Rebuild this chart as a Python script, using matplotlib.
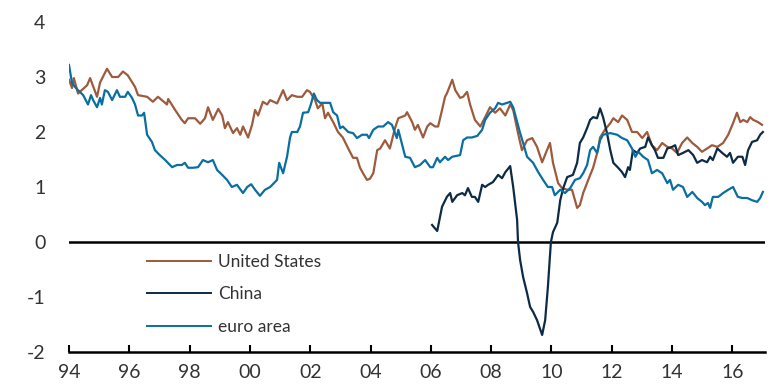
import numpy as np
import matplotlib
matplotlib.use('Agg')
import matplotlib.pyplot as plt

plt.rcParams['font.family'] = ['Lato', 'DejaVu Sans']
plt.rcParams['axes.unicode_minus'] = False

# years after Jan 1994
us_t = [0.00, 0.10, 0.16, 0.30, 0.60, 0.70, 0.93, 1.03, 1.26, 1.43, 1.63, 1.79, 1.95, 2.19, 2.29,
        2.59, 2.78, 2.95, 3.25, 3.29, 3.52, 3.74, 3.84, 3.95, 4.18, 4.35, 4.51, 4.61, 4.77, 4.95,
        5.08, 5.17, 5.27, 5.44, 5.57, 5.68, 5.77, 5.94, 6.07, 6.17, 6.27, 6.43, 6.57, 6.67, 6.90,
        7.00, 7.10, 7.23, 7.39, 7.57, 7.73, 7.89, 7.99, 8.16, 8.25, 8.40, 8.49, 8.59, 8.76, 8.92,
        9.08, 9.26, 9.42, 9.55, 9.65, 9.75, 9.88, 9.98, 10.09, 10.22, 10.32, 10.48, 10.64, 10.81,
        10.92, 11.15, 11.21, 11.38, 11.47, 11.57, 11.74, 11.88, 11.98, 12.14, 12.24, 12.37, 12.47,
        12.53, 12.71, 12.81, 12.97, 13.07, 13.20, 13.30, 13.46, 13.64, 13.80, 13.96, 14.13, 14.29,
        14.47, 14.63, 14.73, 14.89, 15.02, 15.19, 15.36, 15.52, 15.69, 15.85, 15.95, 16.05, 16.22,
        16.35, 16.52, 16.68, 16.85, 16.94, 17.05, 17.22, 17.38, 17.54, 17.61, 17.77, 17.95, 18.05,
        18.21, 18.34, 18.51, 18.67, 18.84, 19.01, 19.17, 19.33, 19.50, 19.67, 19.84, 20.00, 20.16,
        20.33, 20.50, 20.67, 20.83, 20.99, 21.16, 21.32, 21.50, 21.69, 21.86, 22.02, 22.15, 22.26,
        22.36, 22.49, 22.59, 22.69, 22.85, 22.98]
us_v = [2.95, 2.80, 2.98, 2.70, 2.85, 2.98, 2.64, 2.90, 3.15, 3.00, 3.00, 3.10, 3.03, 2.82, 2.67,
        2.64, 2.55, 2.64, 2.50, 2.60, 2.40, 2.22, 2.16, 2.25, 2.25, 2.15, 2.25, 2.45, 2.22, 2.42,
        2.30, 2.07, 2.18, 1.98, 2.07, 1.95, 2.10, 1.90, 2.13, 2.40, 2.30, 2.55, 2.50, 2.58, 2.52,
        2.64, 2.76, 2.58, 2.67, 2.64, 2.64, 2.76, 2.73, 2.58, 2.43, 2.52, 2.25, 2.35, 2.18, 2.00,
        1.90, 1.70, 1.53, 1.53, 1.35, 1.25, 1.13, 1.15, 1.25, 1.67, 1.70, 1.85, 1.70, 2.07,
        2.25, 2.30, 2.36, 2.18, 2.04, 2.13, 1.90, 2.10, 2.16, 2.10, 2.10, 2.40, 2.64,
        2.70, 2.95, 2.76, 2.62, 2.64, 2.73, 2.50, 2.22, 2.10, 2.27, 2.45, 2.35, 2.43,
        2.30, 2.50, 2.40, 1.98, 1.67, 1.85, 1.89, 1.73, 1.45, 1.67, 1.80, 1.44, 1.07,
        0.98, 0.95, 0.95, 0.62, 0.67, 0.89, 1.13, 1.35, 1.67, 1.90, 2.04, 2.16, 2.25,
        2.18, 2.30, 2.22, 2.00, 2.00, 1.89, 2.00, 1.76, 1.67, 1.80, 1.73, 1.70, 1.62,
        1.80, 1.90, 1.80, 1.73, 1.64, 1.70, 1.76, 1.73, 1.80, 1.95, 2.16, 2.35, 2.18,
        2.22, 2.18, 2.27, 2.22, 2.18, 2.13]

cn_t = [12.04, 12.21, 12.37, 12.53, 12.64, 12.71, 12.87, 13.04, 13.13, 13.23, 13.36, 13.46, 13.57,
        13.70, 13.80, 13.90, 14.06, 14.23, 14.36, 14.47, 14.63, 14.73, 14.86, 14.89, 14.96, 15.06,
        15.19, 15.29, 15.39, 15.52, 15.69, 15.79, 15.88, 15.98, 16.05, 16.19, 16.29, 16.39, 16.52,
        16.71, 16.85, 16.94, 17.05, 17.18, 17.28, 17.38, 17.51, 17.61, 17.71, 17.84, 17.95, 18.05,
        18.21, 18.34, 18.44, 18.54, 18.60, 18.70, 18.84, 18.94, 19.11, 19.20, 19.33, 19.43, 19.53,
        19.71, 19.84, 20.00, 20.10, 20.20, 20.36, 20.54, 20.70, 20.83, 20.99, 21.16, 21.26, 21.35,
        21.50, 21.66, 21.82, 21.92, 22.02, 22.18, 22.33, 22.42, 22.52, 22.65, 22.82, 22.92, 23.01]
cn_v = [0.31, 0.20, 0.64, 0.82, 0.89, 0.73, 0.85, 0.89, 0.85, 0.98, 0.82, 0.82, 0.73,
        1.04, 1.00, 1.04, 1.09, 1.22, 1.16, 1.27, 1.38, 1.00, 0.40, 0.00, -0.33, -0.64,
        -0.93, -1.18, -1.27, -1.42, -1.69, -1.42, -0.82, 0.00, 0.18, 0.35, 0.76, 0.98, 1.18,
        1.22, 1.44, 1.80, 1.90, 2.07, 2.22, 2.27, 2.25, 2.43, 2.27, 1.98, 1.67, 1.44,
        1.35, 1.27, 1.18, 1.36, 1.31, 1.67, 1.62, 1.70, 1.73, 1.90, 1.76, 1.67, 1.53,
        1.53, 1.70, 1.73, 1.76, 1.58, 1.62, 1.67, 1.58, 1.44, 1.49, 1.45, 1.55, 1.49,
        1.70, 1.62, 1.55, 1.62, 1.44, 1.55, 1.55, 1.40, 1.67, 1.82, 1.85, 1.95, 2.00]

ea_t = [0.00, 0.10, 0.20, 0.30, 0.47, 0.63, 0.73, 0.80, 0.93, 1.03, 1.09, 1.19, 1.29, 1.43, 1.59,
        1.69, 1.86, 1.95, 2.09, 2.19, 2.29, 2.42, 2.49, 2.59, 2.75, 2.85, 3.01, 3.19, 3.42, 3.58,
        3.74, 3.84, 3.95, 4.12, 4.28, 4.44, 4.61, 4.77, 4.91, 5.08, 5.24, 5.40, 5.57, 5.77, 5.91,
        6.04, 6.17, 6.33, 6.50, 6.67, 6.83, 6.90, 6.97, 7.10, 7.23, 7.33, 7.39, 7.57, 7.66, 7.76,
        7.93, 8.02, 8.12, 8.22, 8.33, 8.49, 8.66, 8.76, 8.89, 8.99, 9.08, 9.26, 9.42, 9.55, 9.72,
        9.88, 9.95, 10.09, 10.25, 10.42, 10.58, 10.71, 10.87, 10.92, 11.15, 11.31, 11.47, 11.64,
        11.81, 11.98, 12.07, 12.21, 12.30, 12.47, 12.57, 12.71, 12.97, 13.07, 13.20, 13.36, 13.54,
        13.70, 13.80, 13.96, 14.13, 14.23, 14.36, 14.53, 14.63, 14.73, 14.86, 14.96, 15.06, 15.19,
        15.39, 15.56, 15.72, 15.88, 16.02, 16.11, 16.29, 16.45, 16.62, 16.78, 16.94, 17.05, 17.18,
        17.28, 17.38, 17.51, 17.61, 17.71, 17.95, 18.18, 18.34, 18.51, 18.67, 18.78, 18.88, 19.04,
        19.20, 19.33, 19.50, 19.67, 19.84, 19.93, 20.03, 20.20, 20.36, 20.50, 20.67, 20.83, 20.99,
        21.09, 21.19, 21.26, 21.35, 21.53, 21.69, 21.86, 22.02, 22.18, 22.33, 22.49, 22.65, 22.82,
        22.92, 23.01]
ea_v = [3.22, 2.89, 2.82, 2.76, 2.67, 2.50, 2.67, 2.58, 2.45, 2.62, 2.50, 2.76, 2.73, 2.58, 2.76,
        2.64, 2.64, 2.73, 2.62, 2.50, 2.30, 2.30, 2.35, 1.95, 1.82, 1.67, 1.58, 1.49, 1.36, 1.40,
        1.40, 1.44, 1.35, 1.35, 1.36, 1.49, 1.45, 1.49, 1.31, 1.22, 1.13, 1.00, 1.04, 0.89, 1.00,
        1.05, 0.95, 0.84, 0.95, 1.00, 1.09, 1.13, 1.44, 1.25, 1.55, 1.90, 2.00, 2.00, 2.10, 2.35,
        2.36, 2.50, 2.70, 2.58, 2.53, 2.53, 2.53, 2.36, 2.30, 2.07, 2.10, 2.00, 1.98, 1.89, 1.95,
        1.95, 1.89, 2.04, 2.10, 2.10, 2.18, 2.13, 1.89, 2.04, 1.55, 1.53, 1.36, 1.40,
        1.49, 1.36, 1.36, 1.53, 1.45, 1.55, 1.49, 1.55, 1.58, 1.85, 1.90, 1.90, 1.93,
        2.04, 2.22, 2.35, 2.43, 2.53, 2.50, 2.53, 2.55, 2.45, 2.18, 1.98, 1.80, 1.55,
        1.44, 1.27, 1.13, 1.00, 1.00, 0.85, 0.95, 0.89, 0.98, 1.13, 1.16, 1.25, 1.40,
        1.67, 1.73, 1.62, 1.85, 1.95, 1.98, 1.95, 1.89, 1.85, 1.70, 1.55, 1.64, 1.55,
        1.49, 1.25, 1.31, 1.25, 1.07, 1.13, 0.95, 1.04, 1.00, 0.82, 0.91, 0.80, 0.73,
        0.67, 0.71, 0.62, 0.82, 0.82, 0.89, 0.95, 1.00, 0.82, 0.80, 0.80, 0.76, 0.73,
        0.80, 0.91]

year_ticks = list(range(1994, 2017, 2))
tick_labels = ['94', '96', '98', '00', '02', '04', '06', '08', '10', '12', '14', '16']

fig = plt.figure(figsize=(7.78, 3.92), dpi=100)
ax = fig.add_axes([69 / 778, 40 / 392, 695.7 / 778, 330 / 392])

ax.plot(1994 + np.array(us_t), us_v, color='#9E5A3C', lw=1.6, label='United States')
ax.plot(1994 + np.array(cn_t), cn_v, color='#0D2B45', lw=1.6, label='China')
ax.plot(1994 + np.array(ea_t), ea_v, color='#0A6FA0', lw=1.6, label='euro area')
ax.axhline(0, color='black', lw=1.8, zorder=1)

ax.set_xlim(1994, 1994 + 23.07)
ax.set_ylim(-2, 4)
ax.set_xticks(year_ticks)
ax.set_xticklabels(tick_labels)
ax.set_yticks(range(-2, 5))

for s in ['top', 'right', 'left']:
    ax.spines[s].set_visible(False)
ax.spines['bottom'].set_linewidth(1.8)
ax.tick_params(axis='x', direction='in', length=5, width=1.5, pad=9,
               labelsize=14, labelcolor='#333333')
ax.tick_params(axis='y', length=0, pad=17, labelsize=14, labelcolor='#333333')

leg = ax.legend(loc='upper left', bbox_to_anchor=(147 / 778, 1 - 254 / 392),
                bbox_transform=fig.transFigure, frameon=False, fontsize=12.5,
                handlelength=3.7, handletextpad=0.4, labelspacing=0.95,
                borderpad=0, borderaxespad=0)
for t in leg.get_texts():
    t.set_color('#333333')
for h in leg.get_lines():
    h.set_linewidth(1.4)

fig.savefig('out.png', dpi=100)
